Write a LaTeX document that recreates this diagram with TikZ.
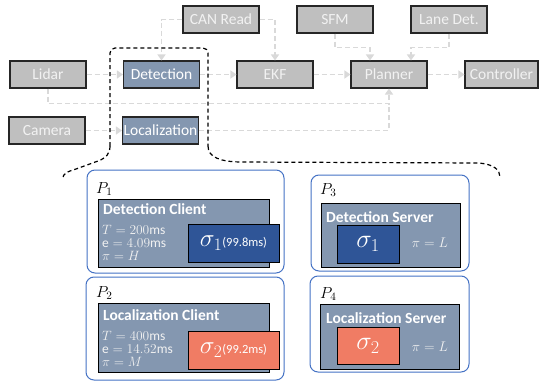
\documentclass[tikz,border=0pt]{standalone}
\usepackage{fix-cm}
\usepackage{fontspec}
\setmainfont{Carlito}
\usetikzlibrary{arrows.meta}

\definecolor{modgray}{HTML}{BFBFBF}
\definecolor{modtext}{HTML}{F2F2F2}
\definecolor{edgedark}{HTML}{262626}
\definecolor{taskblue}{HTML}{8497B0}
\definecolor{flowgray}{HTML}{D9D9D9}
\definecolor{panelblue}{HTML}{4472C4}
\definecolor{sigmablue}{HTML}{2F5597}
\definecolor{sigmared}{HTML}{F07C64}

\begin{document}
\begin{tikzpicture}[x=1pt,y=-1pt,
  mod/.style={draw=edgedark, line width=1.1pt, fill=modgray, text=modtext,
    inner sep=0pt, font=\fontsize{15.5}{15.5}\selectfont,
    minimum width=76pt, minimum height=27pt},
  task/.style={mod, fill=taskblue, text=white},
  flow/.style={draw=flowgray, line width=1.6pt, dash pattern=on 5pt off 3pt,
    -{Triangle[length=6pt,width=8pt]}},
  flowline/.style={draw=flowgray, line width=1.6pt, dash pattern=on 5pt off 3pt},
  region/.style={draw=black, line width=1.2pt, dash pattern=on 4pt off 3pt},
  panel/.style={draw=panelblue, line width=1pt, rounded corners=8pt, inner sep=0pt},
  inner/.style={draw=black, line width=1pt, fill=taskblue, inner sep=0pt},
  sigbox/.style={draw=black, line width=1pt, inner sep=0pt, text=white},
  head/.style={anchor=base west, inner sep=0pt, text=white,
    font=\fontsize{15.5}{15.5}\selectfont\bfseries},
  param/.style={anchor=base west, inner sep=0pt, text=modtext, align=left,
    font=\fontsize{13.5}{12.8}\selectfont},
  plabel/.style={anchor=base west, inner sep=0pt, font=\fontsize{16}{16}\selectfont}
]
\useasboundingbox (0,0) rectangle (539,381);

% ---------- processing pipeline ----------
\node[mod]  (can)   at (221,19.5)   {CAN Read};
\node[mod]  (sfm)   at (335,19.5)   {SFM};
\node[mod]  (lane)  at (449,19.5)   {Lane Det.};
\node[mod]  (lidar) at (48,74.5)    {Lidar};
\node[task] (det)   at (161.5,74.5) {Detection};
\node[mod]  (ekf)   at (275,74.5)   {EKF};
\node[mod]  (plan)  at (389,74.5)   {Planner};
\node[mod, minimum width=73pt] (ctrl) at (501.5,74.5) {Controller};
\node[mod]  (cam)   at (47,130.5)   {Camera};
\node[task] (loc)   at (160.5,130.5){Localization};

\draw[flow] (can.west) -| (det.north);
\draw[flow] (can.east) -| (ekf.north);
\draw[flow] (lidar.east) -- (det.west);
\draw[flow] (det.east) -- (ekf.west);
\draw[flow] (ekf.east) -- (plan.west);
\draw[flow] (plan.east) -- (ctrl.west);
\draw[flow] (cam.east) -- (loc.west);
\draw[flow] (sfm.south) -- ++(0,14) -| ([xshift=-19pt]plan.north);
\draw[flow] (lane.south) -- ++(0,14) -| ([xshift=22pt]plan.north);
\draw[flow] (lidar.south) -- ++(0,15) -| (plan.south);
\coordinate (merge) at ([yshift=-15pt]plan.south);
\draw[flowline] (loc.east) -| (merge);

% ---------- highlighted region and its expansion ----------
\draw[region, rounded corners=5pt] (110,146) -- (110,48) -- (208,48) -- (208,146);
\draw[region] (110,146) .. controls (110,154) and (106,158) .. (98,161)
  -- (76,169) .. controls (66,172) and (63,174) .. (63,178);
\draw[region] (208,146) .. controls (208,157) and (220,162) .. (242,162)
  -- (478,163) .. controls (494,164) and (500,170) .. (500,177);

% ---------- processes ----------
\node[panel, minimum width=197pt, minimum height=103pt] (p1) at (185.5,221.5) {};
\node[panel, minimum width=198pt, minimum height=103pt] (p2) at (185,328.5) {};
\node[panel, minimum width=158pt, minimum height=96pt]  (p3) at (390,223) {};
\node[panel, minimum width=159pt, minimum height=96pt]  (p4) at (389.5,324) {};

\node[plabel] (p1l) at (96,193) {$P_1$};
\node[plabel] (p2l) at (96,297) {$P_2$};
\node[plabel] (p3l) at (320,194) {$P_3$};
\node[plabel] (p4l) at (320,298) {$P_4$};

% detection client (parameter block anchored at its last baseline)
\node[inner, minimum width=171pt, minimum height=68pt] (dc) at (183.5,233) {};
\node[head] (dct) at (103,214) {Detection Client};
\node[param] (dcp) at (102,260)
  {$T=200\mathrm{ms}$\\$\mathrm{e}=4.09\mathrm{ms}$\\$\pi=H$};
\node[sigbox, fill=sigmablue, minimum width=91pt, minimum height=38pt] (s1c) at (233.5,243)
  {\fontsize{25}{25}\selectfont$\sigma_1$\fontsize{12.5}{12.5}\selectfont(99.8ms)};

% localization client
\node[inner, minimum width=171pt, minimum height=69pt] (lc) at (183.5,337.5) {};
\node[head] (lct) at (103,320) {Localization Client};
\node[param] (lcp) at (102,366)
  {$T=400\mathrm{ms}$\\$\mathrm{e}=14.52\mathrm{ms}$\\$\pi=M$};
\node[sigbox, fill=sigmared, minimum width=91pt, minimum height=38pt] (s2c) at (233.5,350)
  {\fontsize{25}{25}\selectfont$\sigma_2$\fontsize{12.5}{12.5}\selectfont(99.2ms)};

% detection server
\node[inner, minimum width=139pt, minimum height=64pt] (ds) at (390.5,235) {};
\node[head] (dst) at (326,222) {Detection Server};
\node[sigbox, fill=sigmablue, minimum width=62pt, minimum height=38pt] (s1s) at (368,244)
  {\fontsize{26}{26}\selectfont$\sigma_1$};
\node[text=modtext, inner sep=0pt, font=\fontsize{14}{14}\selectfont] (dsp) at (430,243) {$\pi=L$};

% localization server
\node[inner, minimum width=139pt, minimum height=65pt] (ls) at (389.5,336.5) {};
\node[head] (lst) at (326,323) {Localization Server};
\node[sigbox, fill=sigmared, minimum width=62pt, minimum height=37pt] (s2s) at (368,345.5)
  {\fontsize{26}{26}\selectfont$\sigma_2$};
\node[text=modtext, inner sep=0pt, font=\fontsize{14}{14}\selectfont] (lsp) at (430,347) {$\pi=L$};
\end{tikzpicture}
\end{document}
